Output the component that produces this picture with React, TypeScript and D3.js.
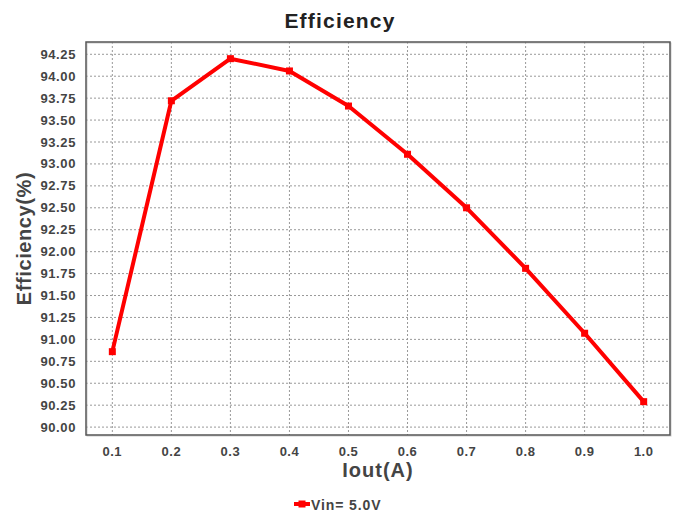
import React from "react";
import * as d3 from "d3";

const currents = [0.1, 0.2, 0.3, 0.4, 0.5, 0.6, 0.7, 0.8, 0.9, 1.0];
const efficiency = [90.86, 93.72, 94.2, 94.06, 93.66, 93.11, 92.5, 91.81, 91.07, 90.29];
const yTicks = [90.0, 90.25, 90.5, 90.75, 91.0, 91.25, 91.5, 91.75, 92.0, 92.25, 92.5, 92.75, 93.0, 93.25, 93.5, 93.75, 94.0, 94.25];
const xTicks = [0.1, 0.2, 0.3, 0.4, 0.5, 0.6, 0.7, 0.8, 0.9, 1.0];
const seriesName = "Vin= 5.0V";

export default function App() {
  const W = 678, H = 516;
  const left = 86, right = 670, top = 42, bottom = 435;
  const x = d3.scaleLinear().domain([0.0554, 1.0446]).range([left, right]);
  const y = d3.scaleLinear().domain([89.91, 94.39]).range([bottom, top]);
  const line = d3.line<number>().x((_, i) => x(currents[i])).y((d) => y(d));
  const font = "'Liberation Sans', Arial, sans-serif";
  const txt = "#444";
  return (
    <svg width={W} height={H} style={{ position: "absolute", left: 0, top: 0 }} fontFamily={font}>
      <rect width={W} height={H} fill="#fff" />
      <text x={340} y={28} textAnchor="middle" fontSize={21} fontWeight="bold" fill="#222" letterSpacing={1.2}>Efficiency</text>
      {yTicks.map((t) => (
        <g key={"y" + t}>
          <line x1={left} x2={right} y1={y(t)} y2={y(t)} stroke="#999" strokeDasharray="2,2" />
          <text x={76} y={y(t) + 4.5} textAnchor="end" fontSize={13} fontWeight="bold" fill={txt} letterSpacing={0.6}>{t.toFixed(2)}</text>
        </g>
      ))}
      {xTicks.map((t) => (
        <g key={"x" + t}>
          <line x1={x(t)} x2={x(t)} y1={top} y2={bottom} stroke="#999" strokeDasharray="2,2" />
          <text x={x(t)} y={456} textAnchor="middle" fontSize={13} fontWeight="bold" fill={txt} letterSpacing={0.5}>{t.toFixed(1)}</text>
        </g>
      ))}
      <rect x={left + 1} y={top + 1} width={right - left} height={bottom - top} fill="none" stroke="#ccc" strokeWidth={1} />
      <rect x={left} y={top} width={right - left} height={bottom - top} fill="none" stroke="#555" strokeWidth={1.5} />
      <path d={line(efficiency) || ""} fill="none" stroke="#ff0000" strokeWidth={4} strokeLinejoin="round" />
      {efficiency.map((v, i) => (
        <rect key={"m" + i} x={x(currents[i]) - 3.5} y={y(v) - 3.5} width={7} height={7} fill="#ff0000" />
      ))}
      <text x={378} y={477} textAnchor="middle" fontSize={20} fontWeight="bold" fill={txt} letterSpacing={1}>Iout(A)</text>
      <text transform={`translate(31,${(top + bottom) / 2}) rotate(-90)`} textAnchor="middle" fontSize={20} fontWeight="bold" fill={txt} letterSpacing={0.6}>Efficiency(%)</text>
      <line x1={294} x2={310} y1={504} y2={504} stroke="#ff0000" strokeWidth={4} />
      <rect x={298.5} y={500.5} width={7} height={7} fill="#ff0000" />
      <text x={311} y={510} fontSize={14} fontWeight="bold" fill={txt} letterSpacing={0.9}>{seriesName}</text>
    </svg>
  );
}
